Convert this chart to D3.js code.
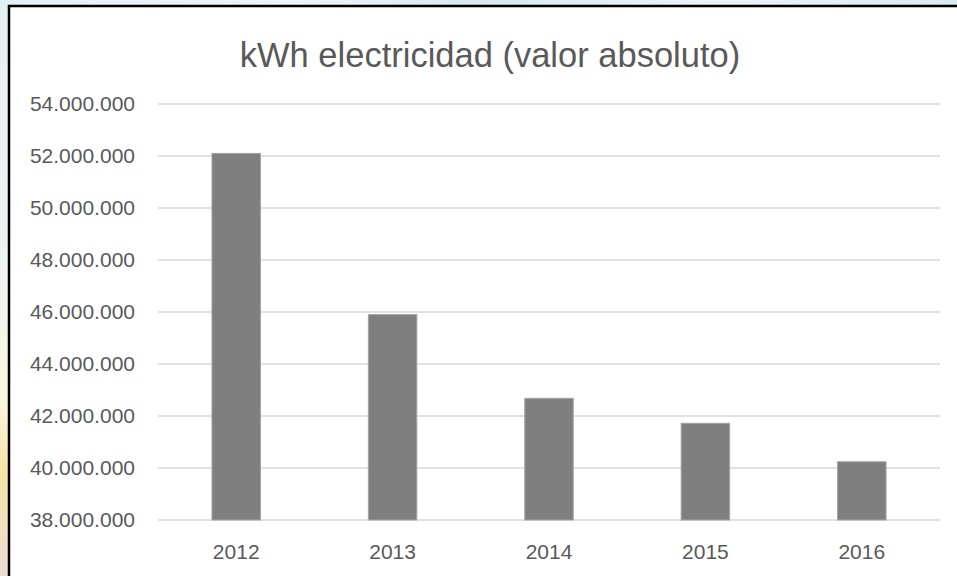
<!DOCTYPE html>
<html>
<head>
<meta charset="utf-8">
<script src="https://cdn.jsdelivr.net/npm/d3@7"></script>
<style>
  body { margin: 0; overflow: hidden; }
  text { font-family: "Liberation Sans", Arial, sans-serif; fill: #595959; }
</style>
</head>
<body>
<div id="chart"></div>
<script>
var width = 957,
    height = 576;

// data
var years = ["2012", "2013", "2014", "2015", "2016"],
    kwh = [52100000, 45900000, 42680000, 41720000, 40240000],
    yTicks = [38000000, 40000000, 42000000, 44000000, 46000000, 48000000, 50000000, 52000000, 54000000],
    title = "kWh electricidad (valor absoluto)";

var plot = {left: 158, right: 940, top: 104, bottom: 520};

var svg = d3.select("#chart").append("svg")
    .attr("width", width)
    .attr("height", height);

// blurred backdrop behind the chart box
var defs = svg.append("defs");
defs.append("linearGradient")
    .attr("id", "side-grad")
    .attr("x1", 0).attr("x2", 0).attr("y1", 0).attr("y2", 1)
  .selectAll("stop")
  .data([
    {offset: "0%", color: "#e3eff6"},
    {offset: "45%", color: "#eef3f3"},
    {offset: "70%", color: "#fbf5dc"},
    {offset: "82%", color: "#f6e4a6"},
    {offset: "100%", color: "#ecdcd6"}
  ])
  .enter().append("stop")
    .attr("offset", function(d) { return d.offset; })
    .attr("stop-color", function(d) { return d.color; });

defs.append("linearGradient")
    .attr("id", "top-grad")
    .attr("x1", 0).attr("x2", 1).attr("y1", 0).attr("y2", 0)
  .selectAll("stop")
  .data([
    {offset: "0%", color: "#e3eff6"},
    {offset: "30%", color: "#eef4f8"},
    {offset: "50%", color: "#d9e9f2"},
    {offset: "75%", color: "#eaf3f8"},
    {offset: "100%", color: "#dceaf3"}
  ])
  .enter().append("stop")
    .attr("offset", function(d) { return d.offset; })
    .attr("stop-color", function(d) { return d.color; });

svg.append("rect")
    .attr("width", width).attr("height", height)
    .attr("fill", "url(#side-grad)");
svg.append("rect")
    .attr("width", width).attr("height", 6)
    .attr("fill", "url(#top-grad)");

// chart box
svg.append("rect")
    .attr("x", 9).attr("y", 6)
    .attr("width", width + 20).attr("height", height + 20)
    .attr("fill", "#fff")
    .attr("stroke", "#000")
    .attr("stroke-width", 2.5);

var x = d3.scaleBand()
    .domain(years)
    .range([plot.left, plot.right])
    .paddingInner(0.69)
    .paddingOuter(0.345);

var y = d3.scaleLinear()
    .domain([38000000, 54000000])
    .range([plot.bottom, plot.top]);

var es = d3.formatLocale({decimal: ",", thousands: ".", grouping: [3], currency: ["", ""]});
var fmt = es.format(",d");

// gridlines
svg.append("g")
    .attr("class", "grid")
  .selectAll("line")
  .data(yTicks)
  .enter().append("line")
    .attr("x1", plot.left).attr("x2", plot.right)
    .attr("y1", function(d) { return y(d); })
    .attr("y2", function(d) { return y(d); })
    .attr("stroke", "#d9d9d9")
    .attr("stroke-width", 1.5);

// y axis labels
var yAxis = svg.append("g")
    .attr("transform", "translate(" + (plot.left - 23) + ",0)")
    .call(d3.axisLeft(y).tickValues(yTicks).tickFormat(fmt).tickSize(0).tickPadding(0));
yAxis.select(".domain").remove();
yAxis.selectAll("text")
    .attr("fill", "#595959")
    .style("font-size", "21px")
    .style("font-family", "'Liberation Sans', Arial, sans-serif");

// bars
svg.append("g")
  .selectAll("rect")
  .data(years)
  .enter().append("rect")
    .attr("x", function(d) { return x(d); })
    .attr("y", function(d, i) { return y(kwh[i]); })
    .attr("width", x.bandwidth())
    .attr("height", function(d, i) { return y(38000000) - y(kwh[i]); })
    .attr("fill", "#7f7f7f")
    .attr("stroke", "#a5a5a5")
    .attr("stroke-width", 1);

// x axis labels
var xAxis = svg.append("g")
    .attr("transform", "translate(0," + plot.bottom + ")")
    .call(d3.axisBottom(x).tickSize(0).tickPadding(24));
xAxis.select(".domain").remove();
xAxis.selectAll("text")
    .attr("fill", "#595959")
    .style("font-size", "21px")
    .style("font-family", "'Liberation Sans', Arial, sans-serif");

// title
svg.append("text")
    .attr("x", 490)
    .attr("y", 67)
    .attr("text-anchor", "middle")
    .style("font-size", "34.5px")
    .text(title);
</script>
</body>
</html>
